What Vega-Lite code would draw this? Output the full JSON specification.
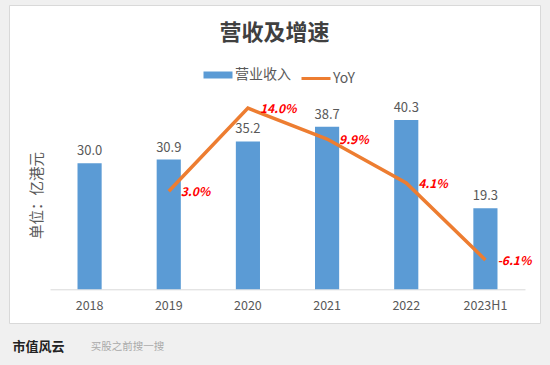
{
  "$schema": "https://vega.github.io/schema/vega-lite/v6.json",
  "width": 531,
  "height": 318,
  "autosize": {"type": "none"},
  "padding": {"left": 9, "top": 5, "right": 10, "bottom": 42},
  "background": "#f0f0f0",
  "title": {
    "text": "营收及增速",
    "fontSize": 22,
    "fontWeight": "bold",
    "color": "#404040",
    "font": "Noto Sans CJK SC",
    "anchor": "middle",
    "frame": "group",
    "offset": -40
  },
  "data": {
    "values": [
      {"year": "2018", "revenue": 30.0, "yoy": null, "yoy_label": ""},
      {"year": "2019", "revenue": 30.9, "yoy": 3.0, "yoy_label": "3.0%"},
      {"year": "2020", "revenue": 35.2, "yoy": 14.0, "yoy_label": "14.0%"},
      {"year": "2021", "revenue": 38.7, "yoy": 9.9, "yoy_label": "9.9%"},
      {"year": "2022", "revenue": 40.3, "yoy": 4.1, "yoy_label": "4.1%"},
      {"year": "2023H1", "revenue": 19.3, "yoy": -6.1, "yoy_label": "-6.1%"}
    ]
  },
  "encoding": {
    "x": {
      "field": "year",
      "type": "ordinal",
      "sort": null,
      "scale": {"range": [41, 516], "paddingInner": 0.695, "paddingOuter": 0.3475},
      "axis": {
        "title": "市值风云",
        "titleX": 29,
        "titleY": 57,
        "titleAlign": "center",
        "titleBaseline": "middle",
        "titleFontSize": 13,
        "titleFontWeight": "bold",
        "titleColor": "#222222",
        "titleFont": "Noto Sans CJK SC",
        "offset": -33.7,
        "labelAngle": 0,
        "labelFont": "Noto Sans CJK SC",
        "labelFontSize": 12.5,
        "labelColor": "#595959",
        "labelBaseline": "top",
        "labelPadding": 10,
        "ticks": false,
        "grid": false,
        "domainColor": "#d9d9d9",
        "domainWidth": 1
      }
    }
  },
  "layer": [
    {
      "encoding": {
        "y": {
          "field": "revenue",
          "type": "quantitative",
          "scale": {"domain": [-8.02, 67.69], "nice": false, "zero": false},
          "axis": {
            "title": "单位：亿港元",
            "labels": false,
            "ticks": false,
            "domain": false,
            "grid": false,
            "titleX": 28,
            "titleY": 190,
            "titleAngle": -90,
            "titleAlign": "center",
            "titleBaseline": "middle",
            "titleFontSize": 14.5,
            "titleFontWeight": "normal",
            "titleColor": "#595959",
            "titleFont": "Noto Sans CJK SC"
          }
        }
      },
      "layer": [
        {
          "mark": {"type": "bar"},
          "encoding": {
            "color": {
              "datum": "营业收入",
              "type": "nominal",
              "scale": {"domain": ["营业收入", "YoY"], "range": ["#5b9bd5", "#ed7d31"]},
              "legend": {
                "title": null,
                "orient": "none",
                "legendX": 202,
                "legendY": 63,
                "direction": "horizontal",
                "symbolType": "stroke",
                "symbolSize": 841,
                "symbolStrokeWidth": 7,
                "labelFont": "Noto Sans CJK SC",
                "labelFontSize": 14,
                "labelColor": "#595959",
                "labelBaseline": "middle",
                "labelOffset": 10,
                "columnPadding": 4,
                "encode": {
                  "symbols": {
                    "update": {
                      "stroke": {"signal": "scale('color', datum.value)"},
                      "strokeWidth": {"signal": "datum.value === 'YoY' ? 3 : 7"},
                      "fill": {"value": "transparent"}
                    }
                  }
                }
              }
            }
          }
        },
        {
          "mark": {
            "type": "text",
            "baseline": "alphabetic",
            "dy": -8,
            "fontSize": 13,
            "font": "Noto Sans CJK SC",
            "color": "#595959"
          },
          "encoding": {
            "text": {"field": "revenue", "type": "quantitative", "format": ".1f"}
          }
        }
      ]
    },
    {
      "transform": [{"filter": "datum.yoy !== null"}],
      "encoding": {
        "y": {
          "field": "yoy",
          "type": "quantitative",
          "scale": {"domain": [-14.46, 27.66], "nice": false, "zero": false},
          "axis": {
            "orient": "right",
            "title": "买股之前搜一搜",
            "labels": false,
            "ticks": false,
            "domain": false,
            "grid": false,
            "titleX": -413,
            "titleY": 341,
            "titleAngle": 0,
            "titleAlign": "center",
            "titleBaseline": "middle",
            "titleFontSize": 10.5,
            "titleFontWeight": "normal",
            "titleColor": "#aaaaaa",
            "titleFont": "Noto Sans CJK SC"
          }
        }
      },
      "layer": [
        {
          "mark": {"type": "line", "strokeWidth": 3.5},
          "encoding": {
            "color": {"datum": "YoY", "type": "nominal"}
          }
        },
        {
          "mark": {
            "type": "text",
            "align": "left",
            "baseline": "middle",
            "dx": 12,
            "dy": 1,
            "fontSize": 12,
            "fontWeight": "bold",
            "fontStyle": "italic",
            "font": "Noto Sans CJK SC",
            "color": "#ff0000"
          },
          "encoding": {
            "text": {"field": "yoy_label", "type": "nominal"}
          }
        }
      ]
    }
  ],
  "resolve": {"scale": {"y": "independent"}},
  "config": {
    "view": {"fill": "white", "stroke": "#d9d9d9"}
  }
}
